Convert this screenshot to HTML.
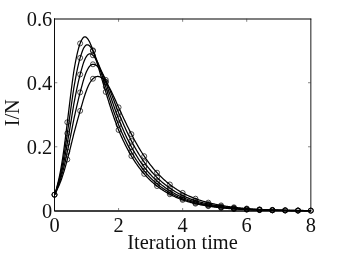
<!DOCTYPE html>
<html><head><meta charset="utf-8"><style>
html,body{margin:0;padding:0;background:#fff;}
svg{display:block;will-change:transform;font-family:"Liberation Serif",serif;font-size:20.4px;fill:#111}
</style></head><body>
<svg width="343" height="254" viewBox="0 0 343 254">
<rect width="343" height="254" fill="#fff"/>
<g fill="none" stroke="#333" stroke-width="0.6">
<path d="M54.5 18.2 V211.3" stroke-width="0.95" stroke="#000"/>
<path d="M54.5 211 H311.3" stroke-width="1.3" stroke="#000"/>
<path d="M54.5 19 H311.3" stroke-width="1.06" stroke="#000"/>
<path d="M310.85 18.7 V210.8" stroke-width="0.9" stroke="#000"/>
<path d="M118.575 210.8 V208.0 M118.575 18.7 V21.8"/><path d="M182.65 210.8 V208.0 M182.65 18.7 V21.8"/><path d="M246.72500000000002 210.8 V208.0 M246.72500000000002 18.7 V21.8"/><path d="M54.5 146.76666666666665 H57.3 M310.8 146.76666666666665 H308.0"/><path d="M54.5 82.73333333333332 H57.3 M310.8 82.73333333333332 H308.0"/>
</g>
<g fill="none" stroke="#000" stroke-width="1.25" stroke-linejoin="round">
<path d="M54.50 194.79 L55.14 192.97 L55.78 190.97 L56.42 188.76 L57.06 186.34 L57.70 183.68 L58.34 181.09 L58.99 178.29 L59.63 175.28 L60.27 172.05 L60.91 168.59 L61.55 164.90 L62.19 160.98 L62.83 156.83 L63.47 152.46 L64.11 147.87 L64.75 143.08 L65.39 138.10 L66.03 132.95 L66.67 127.66 L67.31 122.25 L67.96 117.07 L68.60 111.83 L69.24 106.58 L69.88 101.35 L70.52 96.16 L71.16 91.04 L71.80 86.04 L72.44 81.18 L73.08 76.48 L73.72 71.98 L74.36 68.15 L75.00 64.50 L75.64 61.07 L76.29 57.84 L76.93 54.85 L77.57 52.08 L78.21 49.56 L78.85 47.27 L79.49 45.22 L80.13 43.41 L80.77 41.83 L81.41 40.49 L82.05 39.29 L82.69 38.29 L83.33 37.57 L83.97 37.10 L84.62 36.89 L85.26 36.90 L85.90 37.14 L86.54 37.58 L87.18 38.21 L87.82 39.01 L88.46 39.97 L89.10 41.07 L89.74 42.31 L90.38 43.71 L91.02 45.22 L91.66 46.83 L92.30 48.53 L92.94 50.31 L93.59 52.16 L94.23 54.07 L94.87 56.03 L95.51 58.04 L96.15 60.09 L96.79 62.16 L97.43 64.27 L98.07 66.39 L98.71 68.52 L99.35 70.67 L99.99 72.82 L100.63 74.98 L101.27 77.13 L101.92 79.28 L102.56 81.42 L103.20 83.55 L103.84 85.67 L104.48 87.77 L105.12 89.86 L105.76 91.93 L106.40 94.09 L107.04 96.22 L107.68 98.33 L108.32 100.42 L108.96 102.47 L109.60 104.51 L110.25 106.51 L110.89 108.49 L111.53 110.44 L112.17 112.36 L112.81 114.26 L113.45 116.12 L114.09 117.96 L114.73 119.76 L115.37 121.54 L116.01 123.29 L116.65 125.01 L117.29 126.70 L117.93 128.36 L118.58 129.99 L119.22 131.52 L119.86 133.02 L120.50 134.50 L121.14 135.95 L121.78 137.38 L122.42 138.79 L123.06 140.16 L123.70 141.52 L124.34 142.85 L124.98 144.16 L125.62 145.44 L126.26 146.70 L126.90 147.94 L127.55 149.15 L128.19 150.35 L128.83 151.52 L129.47 152.67 L130.11 153.80 L130.75 154.91 L131.39 155.99 L132.03 157.06 L132.67 158.11 L133.31 159.14 L133.95 160.14 L134.59 161.13 L135.23 162.11 L135.88 163.06 L136.52 163.99 L137.16 164.91 L137.80 165.81 L138.44 166.69 L139.08 167.56 L139.72 168.41 L140.36 169.24 L141.00 170.06 L141.64 170.86 L142.28 171.64 L142.92 172.41 L143.56 173.17 L144.21 173.91 L144.85 174.64 L145.49 175.35 L146.13 176.05 L146.77 176.74 L147.41 177.41 L148.05 178.07 L148.69 178.72 L149.33 179.35 L149.97 179.97 L150.61 180.58 L151.25 181.18 L151.89 181.77 L152.53 182.34 L153.18 182.90 L153.82 183.46 L154.46 184.00 L155.10 184.53 L155.74 185.05 L156.38 185.56 L157.02 186.06 L157.66 186.55 L158.30 187.03 L158.94 187.50 L159.58 187.97 L160.22 188.42 L160.86 188.86 L161.51 189.30 L162.15 189.73 L162.79 190.14 L163.43 190.55 L164.07 190.96 L164.71 191.35 L165.35 191.74 L165.99 192.12 L166.63 192.49 L167.27 192.85 L167.91 193.21 L168.55 193.56 L169.19 193.90 L169.84 194.24 L170.48 194.58 L171.12 194.92 L171.76 195.25 L172.40 195.57 L173.04 195.89 L173.68 196.20 L174.32 196.50 L174.96 196.80 L175.60 197.09 L176.24 197.38 L176.88 197.66 L177.52 197.93 L178.16 198.20 L178.81 198.46 L179.45 198.72 L180.09 198.97 L180.73 199.22 L181.37 199.46 L182.01 199.69 L182.65 199.92 L183.29 200.15 L183.93 200.37 L184.57 200.59 L185.21 200.80 L185.85 201.01 L186.49 201.22 L187.14 201.42 L187.78 201.61 L188.42 201.80 L189.06 201.99 L189.70 202.17 L190.34 202.35 L190.98 202.53 L191.62 202.70 L192.26 202.87 L192.90 203.04 L193.54 203.20 L194.18 203.36 L194.82 203.51 L195.47 203.66 L196.11 203.81 L196.75 203.96 L197.39 204.10 L198.03 204.24 L198.67 204.38 L199.31 204.51 L199.95 204.64 L200.59 204.77 L201.23 204.90 L201.87 205.02 L202.51 205.14 L203.15 205.26 L203.79 205.37 L204.44 205.49 L205.08 205.60 L205.72 205.71 L206.36 205.81 L207.00 205.92 L207.64 206.02 L208.28 206.12 L208.92 206.22 L209.56 206.31 L210.20 206.41 L210.84 206.50 L211.48 206.59 L212.12 206.68 L212.77 206.76 L213.41 206.85 L214.05 206.93 L214.69 207.01 L215.33 207.10 L215.97 207.18 L216.61 207.26 L217.25 207.35 L217.89 207.43 L218.53 207.50 L219.17 207.58 L219.81 207.65 L220.45 207.72 L221.10 207.80 L221.74 207.86 L222.38 207.93 L223.02 208.00 L223.66 208.06 L224.30 208.13 L224.94 208.19 L225.58 208.25 L226.22 208.31 L226.86 208.36 L227.50 208.42 L228.14 208.47 L228.78 208.53 L229.42 208.58 L230.07 208.63 L230.71 208.68 L231.35 208.73 L231.99 208.78 L232.63 208.82 L233.27 208.87 L233.91 208.91 L234.55 208.96 L235.19 209.00 L235.83 209.04 L236.47 209.08 L237.11 209.12 L237.75 209.16 L238.40 209.20 L239.04 209.23 L239.68 209.27 L240.32 209.30 L240.96 209.34 L241.60 209.37 L242.24 209.40 L242.88 209.44 L243.52 209.47 L244.16 209.50 L244.80 209.53 L245.44 209.56 L246.08 209.59 L246.73 209.61 L247.37 209.64 L248.01 209.67 L248.65 209.70 L249.29 209.73 L249.93 209.75 L250.57 209.78 L251.21 209.80 L251.85 209.83 L252.49 209.85 L253.13 209.87 L253.77 209.90 L254.41 209.92 L255.05 209.94 L255.70 209.96 L256.34 209.98 L256.98 210.00 L257.62 210.02 L258.26 210.04 L258.90 210.06 L259.54 210.08 L260.18 210.09 L260.82 210.11 L261.46 210.13 L262.10 210.14 L262.74 210.16 L263.38 210.18 L264.03 210.19 L264.67 210.21 L265.31 210.22 L265.95 210.23 L266.59 210.25 L267.23 210.26 L267.87 210.27 L268.51 210.29 L269.15 210.30 L269.79 210.31 L270.43 210.32 L271.07 210.34 L271.71 210.35 L272.36 210.36 L273.00 210.37 L273.64 210.38 L274.28 210.39 L274.92 210.40 L275.56 210.41 L276.20 210.42 L276.84 210.43 L277.48 210.44 L278.12 210.45 L278.76 210.45 L279.40 210.46 L280.04 210.47 L280.68 210.48 L281.33 210.49 L281.97 210.49 L282.61 210.50 L283.25 210.51 L283.89 210.51 L284.53 210.52 L285.17 210.53 L285.81 210.53 L286.45 210.54 L287.09 210.55 L287.73 210.55 L288.37 210.56 L289.01 210.56 L289.66 210.57 L290.30 210.57 L290.94 210.58 L291.58 210.58 L292.22 210.59 L292.86 210.59 L293.50 210.60 L294.14 210.60 L294.78 210.61 L295.42 210.61 L296.06 210.62 L296.70 210.62 L297.34 210.63 L297.99 210.63 L298.63 210.63 L299.27 210.64 L299.91 210.64 L300.55 210.65 L301.19 210.65 L301.83 210.65 L302.47 210.66 L303.11 210.66 L303.75 210.66 L304.39 210.67 L305.03 210.67 L305.67 210.67 L306.31 210.67 L306.96 210.68 L307.60 210.68 L308.24 210.68 L308.88 210.69 L309.52 210.69 L310.16 210.69 L310.80 210.69"/><path d="M54.50 194.76 L55.14 193.12 L55.78 191.34 L56.42 189.39 L57.06 187.28 L57.70 184.98 L58.34 182.75 L58.99 180.35 L59.63 177.79 L60.27 175.05 L60.91 172.14 L61.55 169.05 L62.19 165.77 L62.83 162.31 L63.47 158.67 L64.11 154.86 L64.75 150.87 L65.39 146.72 L66.03 142.41 L66.67 137.97 L67.31 133.40 L67.96 129.01 L68.60 124.54 L69.24 120.02 L69.88 115.46 L70.52 110.88 L71.16 106.32 L71.80 101.79 L72.44 97.31 L73.08 92.92 L73.72 88.63 L74.36 84.90 L75.00 81.28 L75.64 77.79 L76.29 74.45 L76.93 71.25 L77.57 68.22 L78.21 65.36 L78.85 62.68 L79.49 60.19 L80.13 57.88 L80.77 55.76 L81.41 53.84 L82.05 51.99 L82.69 50.26 L83.33 48.78 L83.97 47.55 L84.62 46.55 L85.26 45.78 L85.90 45.24 L86.54 44.90 L87.18 44.77 L87.82 44.83 L88.46 45.06 L89.10 45.47 L89.74 46.04 L90.38 46.76 L91.02 47.63 L91.66 48.63 L92.30 49.75 L92.94 50.98 L93.59 52.31 L94.23 53.73 L94.87 55.23 L95.51 56.81 L96.15 58.45 L96.79 60.14 L97.43 61.89 L98.07 63.69 L98.71 65.52 L99.35 67.38 L99.99 69.27 L100.63 71.19 L101.27 73.12 L101.92 75.07 L102.56 77.03 L103.20 78.99 L103.84 80.96 L104.48 82.93 L105.12 84.89 L105.76 86.86 L106.40 88.92 L107.04 90.98 L107.68 93.03 L108.32 95.06 L108.96 97.08 L109.60 99.08 L110.25 101.06 L110.89 103.02 L111.53 104.96 L112.17 106.88 L112.81 108.78 L113.45 110.66 L114.09 112.51 L114.73 114.33 L115.37 116.13 L116.01 117.91 L116.65 119.66 L117.29 121.39 L117.93 123.09 L118.58 124.76 L119.22 126.33 L119.86 127.88 L120.50 129.40 L121.14 130.90 L121.78 132.38 L122.42 133.84 L123.06 135.27 L123.70 136.67 L124.34 138.06 L124.98 139.42 L125.62 140.76 L126.26 142.07 L126.90 143.37 L127.55 144.64 L128.19 145.89 L128.83 147.12 L129.47 148.33 L130.11 149.51 L130.75 150.68 L131.39 151.83 L132.03 152.95 L132.67 154.05 L133.31 155.14 L133.95 156.21 L134.59 157.25 L135.23 158.28 L135.88 159.29 L136.52 160.28 L137.16 161.25 L137.80 162.21 L138.44 163.14 L139.08 164.06 L139.72 164.97 L140.36 165.85 L141.00 166.72 L141.64 167.58 L142.28 168.41 L142.92 169.24 L143.56 170.04 L144.21 170.83 L144.85 171.61 L145.49 172.37 L146.13 173.12 L146.77 173.85 L147.41 174.57 L148.05 175.28 L148.69 175.97 L149.33 176.65 L149.97 177.32 L150.61 177.97 L151.25 178.61 L151.89 179.24 L152.53 179.86 L153.18 180.47 L153.82 181.06 L154.46 181.64 L155.10 182.21 L155.74 182.77 L156.38 183.32 L157.02 183.86 L157.66 184.39 L158.30 184.91 L158.94 185.42 L159.58 185.91 L160.22 186.40 L160.86 186.88 L161.51 187.35 L162.15 187.81 L162.79 188.27 L163.43 188.71 L164.07 189.14 L164.71 189.57 L165.35 189.99 L165.99 190.40 L166.63 190.80 L167.27 191.19 L167.91 191.58 L168.55 191.96 L169.19 192.33 L169.84 192.69 L170.48 193.07 L171.12 193.43 L171.76 193.79 L172.40 194.14 L173.04 194.48 L173.68 194.82 L174.32 195.15 L174.96 195.47 L175.60 195.79 L176.24 196.09 L176.88 196.40 L177.52 196.69 L178.16 196.99 L178.81 197.27 L179.45 197.55 L180.09 197.82 L180.73 198.09 L181.37 198.35 L182.01 198.61 L182.65 198.86 L183.29 199.11 L183.93 199.35 L184.57 199.59 L185.21 199.82 L185.85 200.04 L186.49 200.27 L187.14 200.48 L187.78 200.70 L188.42 200.91 L189.06 201.11 L189.70 201.31 L190.34 201.51 L190.98 201.70 L191.62 201.89 L192.26 202.07 L192.90 202.25 L193.54 202.43 L194.18 202.60 L194.82 202.77 L195.47 202.94 L196.11 203.10 L196.75 203.26 L197.39 203.41 L198.03 203.57 L198.67 203.72 L199.31 203.86 L199.95 204.01 L200.59 204.15 L201.23 204.29 L201.87 204.42 L202.51 204.55 L203.15 204.68 L203.79 204.81 L204.44 204.93 L205.08 205.05 L205.72 205.17 L206.36 205.29 L207.00 205.40 L207.64 205.51 L208.28 205.62 L208.92 205.73 L209.56 205.84 L210.20 205.94 L210.84 206.04 L211.48 206.14 L212.12 206.23 L212.77 206.33 L213.41 206.42 L214.05 206.51 L214.69 206.60 L215.33 206.70 L215.97 206.79 L216.61 206.88 L217.25 206.97 L217.89 207.06 L218.53 207.14 L219.17 207.23 L219.81 207.31 L220.45 207.39 L221.10 207.47 L221.74 207.54 L222.38 207.62 L223.02 207.69 L223.66 207.76 L224.30 207.83 L224.94 207.90 L225.58 207.96 L226.22 208.03 L226.86 208.09 L227.50 208.15 L228.14 208.21 L228.78 208.27 L229.42 208.33 L230.07 208.39 L230.71 208.44 L231.35 208.49 L231.99 208.55 L232.63 208.60 L233.27 208.65 L233.91 208.70 L234.55 208.75 L235.19 208.79 L235.83 208.84 L236.47 208.88 L237.11 208.93 L237.75 208.97 L238.40 209.01 L239.04 209.05 L239.68 209.09 L240.32 209.13 L240.96 209.17 L241.60 209.21 L242.24 209.24 L242.88 209.28 L243.52 209.31 L244.16 209.35 L244.80 209.38 L245.44 209.41 L246.08 209.44 L246.73 209.47 L247.37 209.51 L248.01 209.54 L248.65 209.57 L249.29 209.60 L249.93 209.63 L250.57 209.66 L251.21 209.68 L251.85 209.71 L252.49 209.74 L253.13 209.76 L253.77 209.79 L254.41 209.81 L255.05 209.84 L255.70 209.86 L256.34 209.88 L256.98 209.90 L257.62 209.93 L258.26 209.95 L258.90 209.97 L259.54 209.99 L260.18 210.01 L260.82 210.03 L261.46 210.04 L262.10 210.06 L262.74 210.08 L263.38 210.10 L264.03 210.11 L264.67 210.13 L265.31 210.15 L265.95 210.16 L266.59 210.18 L267.23 210.19 L267.87 210.21 L268.51 210.22 L269.15 210.24 L269.79 210.25 L270.43 210.26 L271.07 210.28 L271.71 210.29 L272.36 210.30 L273.00 210.31 L273.64 210.33 L274.28 210.34 L274.92 210.35 L275.56 210.36 L276.20 210.37 L276.84 210.38 L277.48 210.39 L278.12 210.40 L278.76 210.41 L279.40 210.42 L280.04 210.43 L280.68 210.44 L281.33 210.44 L281.97 210.45 L282.61 210.46 L283.25 210.47 L283.89 210.48 L284.53 210.48 L285.17 210.49 L285.81 210.50 L286.45 210.51 L287.09 210.51 L287.73 210.52 L288.37 210.53 L289.01 210.53 L289.66 210.54 L290.30 210.54 L290.94 210.55 L291.58 210.56 L292.22 210.56 L292.86 210.57 L293.50 210.57 L294.14 210.58 L294.78 210.58 L295.42 210.59 L296.06 210.59 L296.70 210.60 L297.34 210.60 L297.99 210.61 L298.63 210.61 L299.27 210.62 L299.91 210.62 L300.55 210.62 L301.19 210.63 L301.83 210.63 L302.47 210.64 L303.11 210.64 L303.75 210.64 L304.39 210.65 L305.03 210.65 L305.67 210.65 L306.31 210.66 L306.96 210.66 L307.60 210.66 L308.24 210.67 L308.88 210.67 L309.52 210.67 L310.16 210.68 L310.80 210.68"/><path d="M54.50 194.73 L55.14 193.27 L55.78 191.69 L56.42 189.99 L57.06 188.15 L57.70 186.17 L58.34 184.25 L58.99 182.21 L59.63 180.03 L60.27 177.72 L60.91 175.27 L61.55 172.68 L62.19 169.95 L62.83 167.07 L63.47 164.06 L64.11 160.90 L64.75 157.60 L65.39 154.17 L66.03 150.61 L66.67 146.92 L67.31 143.13 L67.96 139.48 L68.60 135.76 L69.24 131.96 L69.88 128.11 L70.52 124.22 L71.16 120.31 L71.80 116.38 L72.44 112.46 L73.08 108.55 L73.72 104.69 L74.36 101.29 L75.00 97.95 L75.64 94.68 L76.29 91.48 L76.93 88.37 L77.57 85.36 L78.21 82.46 L78.85 79.67 L79.49 77.01 L80.13 74.48 L80.77 72.08 L81.41 69.83 L82.05 67.58 L82.69 65.37 L83.33 63.36 L83.97 61.55 L84.62 59.93 L85.26 58.52 L85.90 57.30 L86.54 56.27 L87.18 55.43 L87.82 54.77 L88.46 54.29 L89.10 53.98 L89.74 53.83 L90.38 53.84 L91.02 54.00 L91.66 54.30 L92.30 54.73 L92.94 55.29 L93.59 55.97 L94.23 56.76 L94.87 57.65 L95.51 58.64 L96.15 59.71 L96.79 60.87 L97.43 62.10 L98.07 63.40 L98.71 64.76 L99.35 66.18 L99.99 67.65 L100.63 69.16 L101.27 70.72 L101.92 72.31 L102.56 73.93 L103.20 75.58 L103.84 77.25 L104.48 78.95 L105.12 80.66 L105.76 82.38 L106.40 84.25 L107.04 86.14 L107.68 88.03 L108.32 89.92 L108.96 91.81 L109.60 93.69 L110.25 95.58 L110.89 97.45 L111.53 99.32 L112.17 101.18 L112.81 103.02 L113.45 104.85 L114.09 106.67 L114.73 108.47 L115.37 110.25 L116.01 112.02 L116.65 113.76 L117.29 115.49 L117.93 117.20 L118.58 118.89 L119.22 120.48 L119.86 122.05 L120.50 123.59 L121.14 125.12 L121.78 126.63 L122.42 128.12 L123.06 129.59 L123.70 131.04 L124.34 132.47 L124.98 133.87 L125.62 135.26 L126.26 136.62 L126.90 137.97 L127.55 139.29 L128.19 140.60 L128.83 141.88 L129.47 143.14 L130.11 144.39 L130.75 145.61 L131.39 146.81 L132.03 147.99 L132.67 149.16 L133.31 150.30 L133.95 151.43 L134.59 152.53 L135.23 153.62 L135.88 154.69 L136.52 155.74 L137.16 156.78 L137.80 157.79 L138.44 158.79 L139.08 159.77 L139.72 160.73 L140.36 161.68 L141.00 162.61 L141.64 163.52 L142.28 164.42 L142.92 165.30 L143.56 166.16 L144.21 167.01 L144.85 167.84 L145.49 168.66 L146.13 169.47 L146.77 170.26 L147.41 171.03 L148.05 171.79 L148.69 172.54 L149.33 173.27 L149.97 173.99 L150.61 174.70 L151.25 175.39 L151.89 176.07 L152.53 176.74 L153.18 177.39 L153.82 178.04 L154.46 178.67 L155.10 179.29 L155.74 179.90 L156.38 180.49 L157.02 181.08 L157.66 181.65 L158.30 182.21 L158.94 182.77 L159.58 183.31 L160.22 183.84 L160.86 184.36 L161.51 184.88 L162.15 185.38 L162.79 185.87 L163.43 186.36 L164.07 186.83 L164.71 187.30 L165.35 187.75 L165.99 188.20 L166.63 188.64 L167.27 189.07 L167.91 189.49 L168.55 189.91 L169.19 190.31 L169.84 190.71 L170.48 191.12 L171.12 191.52 L171.76 191.91 L172.40 192.29 L173.04 192.67 L173.68 193.04 L174.32 193.40 L174.96 193.75 L175.60 194.10 L176.24 194.44 L176.88 194.77 L177.52 195.09 L178.16 195.41 L178.81 195.73 L179.45 196.03 L180.09 196.33 L180.73 196.63 L181.37 196.91 L182.01 197.20 L182.65 197.47 L183.29 197.75 L183.93 198.01 L184.57 198.27 L185.21 198.53 L185.85 198.78 L186.49 199.02 L187.14 199.26 L187.78 199.50 L188.42 199.73 L189.06 199.95 L189.70 200.17 L190.34 200.39 L190.98 200.60 L191.62 200.81 L192.26 201.02 L192.90 201.22 L193.54 201.41 L194.18 201.60 L194.82 201.79 L195.47 201.97 L196.11 202.15 L196.75 202.33 L197.39 202.50 L198.03 202.67 L198.67 202.84 L199.31 203.00 L199.95 203.16 L200.59 203.32 L201.23 203.47 L201.87 203.62 L202.51 203.77 L203.15 203.91 L203.79 204.05 L204.44 204.19 L205.08 204.32 L205.72 204.46 L206.36 204.59 L207.00 204.71 L207.64 204.84 L208.28 204.96 L208.92 205.08 L209.56 205.20 L210.20 205.31 L210.84 205.42 L211.48 205.53 L212.12 205.64 L212.77 205.75 L213.41 205.85 L214.05 205.95 L214.69 206.05 L215.33 206.16 L215.97 206.26 L216.61 206.36 L217.25 206.46 L217.89 206.56 L218.53 206.66 L219.17 206.75 L219.81 206.84 L220.45 206.93 L221.10 207.02 L221.74 207.10 L222.38 207.19 L223.02 207.27 L223.66 207.35 L224.30 207.42 L224.94 207.50 L225.58 207.58 L226.22 207.65 L226.86 207.72 L227.50 207.79 L228.14 207.86 L228.78 207.92 L229.42 207.99 L230.07 208.05 L230.71 208.11 L231.35 208.17 L231.99 208.23 L232.63 208.29 L233.27 208.35 L233.91 208.40 L234.55 208.46 L235.19 208.51 L235.83 208.56 L236.47 208.61 L237.11 208.66 L237.75 208.71 L238.40 208.76 L239.04 208.80 L239.68 208.85 L240.32 208.89 L240.96 208.93 L241.60 208.98 L242.24 209.02 L242.88 209.06 L243.52 209.10 L244.16 209.13 L244.80 209.17 L245.44 209.21 L246.08 209.24 L246.73 209.28 L247.37 209.32 L248.01 209.35 L248.65 209.39 L249.29 209.42 L249.93 209.45 L250.57 209.48 L251.21 209.52 L251.85 209.55 L252.49 209.58 L253.13 209.61 L253.77 209.63 L254.41 209.66 L255.05 209.69 L255.70 209.72 L256.34 209.74 L256.98 209.77 L257.62 209.79 L258.26 209.82 L258.90 209.84 L259.54 209.86 L260.18 209.88 L260.82 209.91 L261.46 209.93 L262.10 209.95 L262.74 209.97 L263.38 209.99 L264.03 210.01 L264.67 210.03 L265.31 210.05 L265.95 210.06 L266.59 210.08 L267.23 210.10 L267.87 210.12 L268.51 210.13 L269.15 210.15 L269.79 210.16 L270.43 210.18 L271.07 210.19 L271.71 210.21 L272.36 210.22 L273.00 210.24 L273.64 210.25 L274.28 210.26 L274.92 210.27 L275.56 210.29 L276.20 210.30 L276.84 210.31 L277.48 210.32 L278.12 210.33 L278.76 210.35 L279.40 210.36 L280.04 210.37 L280.68 210.38 L281.33 210.39 L281.97 210.40 L282.61 210.40 L283.25 210.41 L283.89 210.42 L284.53 210.43 L285.17 210.44 L285.81 210.45 L286.45 210.46 L287.09 210.46 L287.73 210.47 L288.37 210.48 L289.01 210.49 L289.66 210.49 L290.30 210.50 L290.94 210.51 L291.58 210.51 L292.22 210.52 L292.86 210.53 L293.50 210.53 L294.14 210.54 L294.78 210.55 L295.42 210.55 L296.06 210.56 L296.70 210.56 L297.34 210.57 L297.99 210.57 L298.63 210.58 L299.27 210.58 L299.91 210.59 L300.55 210.59 L301.19 210.60 L301.83 210.60 L302.47 210.61 L303.11 210.61 L303.75 210.62 L304.39 210.62 L305.03 210.62 L305.67 210.63 L306.31 210.63 L306.96 210.64 L307.60 210.64 L308.24 210.64 L308.88 210.65 L309.52 210.65 L310.16 210.65 L310.80 210.66"/><path d="M54.50 194.70 L55.14 193.41 L55.78 192.03 L56.42 190.55 L57.06 188.98 L57.70 187.29 L58.34 185.65 L58.99 183.91 L59.63 182.07 L60.27 180.13 L60.91 178.09 L61.55 175.94 L62.19 173.68 L62.83 171.31 L63.47 168.83 L64.11 166.24 L64.75 163.54 L65.39 160.74 L66.03 157.84 L66.67 154.83 L67.31 151.73 L67.96 148.77 L68.60 145.74 L69.24 142.65 L69.88 139.50 L70.52 136.30 L71.16 133.06 L71.80 129.79 L72.44 126.49 L73.08 123.19 L73.72 119.88 L74.36 116.97 L75.00 114.07 L75.64 111.19 L76.29 108.35 L76.93 105.54 L77.57 102.79 L78.21 100.09 L78.85 97.45 L79.49 94.88 L80.13 92.39 L80.77 89.98 L81.41 87.66 L82.05 85.30 L82.69 82.92 L83.33 80.67 L83.97 78.56 L84.62 76.59 L85.26 74.77 L85.90 73.09 L86.54 71.56 L87.18 70.19 L87.82 68.96 L88.46 67.88 L89.10 66.95 L89.74 66.16 L90.38 65.53 L91.02 65.03 L91.66 64.66 L92.30 64.42 L92.94 64.29 L93.59 64.28 L94.23 64.38 L94.87 64.59 L95.51 64.90 L96.15 65.31 L96.79 65.81 L97.43 66.39 L98.07 67.06 L98.71 67.81 L99.35 68.63 L99.99 69.52 L100.63 70.47 L101.27 71.48 L101.92 72.55 L102.56 73.67 L103.20 74.83 L103.84 76.04 L104.48 77.29 L105.12 78.57 L105.76 79.89 L106.40 81.40 L107.04 82.94 L107.68 84.52 L108.32 86.11 L108.96 87.73 L109.60 89.37 L110.25 91.02 L110.89 92.69 L111.53 94.36 L112.17 96.04 L112.81 97.72 L113.45 99.40 L114.09 101.09 L114.73 102.77 L115.37 104.45 L116.01 106.12 L116.65 107.79 L117.29 109.44 L117.93 111.09 L118.58 112.72 L119.22 114.27 L119.86 115.81 L120.50 117.33 L121.14 118.84 L121.78 120.34 L122.42 121.82 L123.06 123.28 L123.70 124.74 L124.34 126.17 L124.98 127.59 L125.62 128.99 L126.26 130.38 L126.90 131.75 L127.55 133.10 L128.19 134.44 L128.83 135.76 L129.47 137.06 L130.11 138.34 L130.75 139.61 L131.39 140.86 L132.03 142.09 L132.67 143.30 L133.31 144.49 L133.95 145.67 L134.59 146.83 L135.23 147.97 L135.88 149.10 L136.52 150.21 L137.16 151.30 L137.80 152.37 L138.44 153.43 L139.08 154.47 L139.72 155.49 L140.36 156.50 L141.00 157.49 L141.64 158.46 L142.28 159.42 L142.92 160.36 L143.56 161.29 L144.21 162.20 L144.85 163.10 L145.49 163.98 L146.13 164.84 L146.77 165.69 L147.41 166.53 L148.05 167.35 L148.69 168.16 L149.33 168.95 L149.97 169.73 L150.61 170.50 L151.25 171.25 L151.89 171.99 L152.53 172.72 L153.18 173.43 L153.82 174.14 L154.46 174.82 L155.10 175.50 L155.74 176.16 L156.38 176.82 L157.02 177.46 L157.66 178.09 L158.30 178.70 L158.94 179.31 L159.58 179.91 L160.22 180.49 L160.86 181.07 L161.51 181.63 L162.15 182.18 L162.79 182.73 L163.43 183.26 L164.07 183.78 L164.71 184.30 L165.35 184.80 L165.99 185.30 L166.63 185.78 L167.27 186.26 L167.91 186.73 L168.55 187.19 L169.19 187.64 L169.84 188.08 L170.48 188.53 L171.12 188.97 L171.76 189.40 L172.40 189.83 L173.04 190.24 L173.68 190.65 L174.32 191.05 L174.96 191.44 L175.60 191.82 L176.24 192.20 L176.88 192.57 L177.52 192.93 L178.16 193.29 L178.81 193.64 L179.45 193.98 L180.09 194.31 L180.73 194.64 L181.37 194.96 L182.01 195.28 L182.65 195.59 L183.29 195.89 L183.93 196.19 L184.57 196.48 L185.21 196.76 L185.85 197.04 L186.49 197.32 L187.14 197.59 L187.78 197.85 L188.42 198.11 L189.06 198.36 L189.70 198.61 L190.34 198.86 L190.98 199.09 L191.62 199.33 L192.26 199.56 L192.90 199.78 L193.54 200.00 L194.18 200.22 L194.82 200.43 L195.47 200.64 L196.11 200.84 L196.75 201.04 L197.39 201.24 L198.03 201.43 L198.67 201.62 L199.31 201.80 L199.95 201.98 L200.59 202.16 L201.23 202.33 L201.87 202.50 L202.51 202.67 L203.15 202.83 L203.79 202.99 L204.44 203.15 L205.08 203.30 L205.72 203.45 L206.36 203.60 L207.00 203.74 L207.64 203.88 L208.28 204.02 L208.92 204.16 L209.56 204.29 L210.20 204.42 L210.84 204.55 L211.48 204.68 L212.12 204.80 L212.77 204.92 L213.41 205.04 L214.05 205.15 L214.69 205.27 L215.33 205.39 L215.97 205.51 L216.61 205.63 L217.25 205.74 L217.89 205.85 L218.53 205.96 L219.17 206.07 L219.81 206.17 L220.45 206.28 L221.10 206.38 L221.74 206.47 L222.38 206.57 L223.02 206.66 L223.66 206.75 L224.30 206.84 L224.94 206.93 L225.58 207.02 L226.22 207.10 L226.86 207.18 L227.50 207.26 L228.14 207.34 L228.78 207.42 L229.42 207.49 L230.07 207.56 L230.71 207.64 L231.35 207.71 L231.99 207.77 L232.63 207.84 L233.27 207.91 L233.91 207.97 L234.55 208.03 L235.19 208.09 L235.83 208.15 L236.47 208.21 L237.11 208.27 L237.75 208.33 L238.40 208.38 L239.04 208.43 L239.68 208.49 L240.32 208.54 L240.96 208.59 L241.60 208.64 L242.24 208.68 L242.88 208.73 L243.52 208.78 L244.16 208.82 L244.80 208.87 L245.44 208.91 L246.08 208.95 L246.73 208.99 L247.37 209.03 L248.01 209.08 L248.65 209.12 L249.29 209.16 L249.93 209.19 L250.57 209.23 L251.21 209.27 L251.85 209.30 L252.49 209.34 L253.13 209.37 L253.77 209.41 L254.41 209.44 L255.05 209.47 L255.70 209.50 L256.34 209.53 L256.98 209.56 L257.62 209.59 L258.26 209.62 L258.90 209.65 L259.54 209.67 L260.18 209.70 L260.82 209.73 L261.46 209.75 L262.10 209.78 L262.74 209.80 L263.38 209.82 L264.03 209.85 L264.67 209.87 L265.31 209.89 L265.95 209.91 L266.59 209.93 L267.23 209.95 L267.87 209.97 L268.51 209.99 L269.15 210.01 L269.79 210.03 L270.43 210.05 L271.07 210.07 L271.71 210.08 L272.36 210.10 L273.00 210.12 L273.64 210.13 L274.28 210.15 L274.92 210.16 L275.56 210.18 L276.20 210.19 L276.84 210.21 L277.48 210.22 L278.12 210.23 L278.76 210.25 L279.40 210.26 L280.04 210.27 L280.68 210.28 L281.33 210.30 L281.97 210.31 L282.61 210.32 L283.25 210.33 L283.89 210.34 L284.53 210.35 L285.17 210.36 L285.81 210.37 L286.45 210.38 L287.09 210.39 L287.73 210.40 L288.37 210.41 L289.01 210.42 L289.66 210.43 L290.30 210.43 L290.94 210.44 L291.58 210.45 L292.22 210.46 L292.86 210.47 L293.50 210.47 L294.14 210.48 L294.78 210.49 L295.42 210.49 L296.06 210.50 L296.70 210.51 L297.34 210.52 L297.99 210.52 L298.63 210.53 L299.27 210.53 L299.91 210.54 L300.55 210.55 L301.19 210.55 L301.83 210.56 L302.47 210.56 L303.11 210.57 L303.75 210.57 L304.39 210.58 L305.03 210.58 L305.67 210.59 L306.31 210.59 L306.96 210.60 L307.60 210.60 L308.24 210.61 L308.88 210.61 L309.52 210.62 L310.16 210.62 L310.80 210.62"/><path d="M54.50 194.66 L55.14 193.55 L55.78 192.36 L56.42 191.10 L57.06 189.77 L57.70 188.36 L58.34 186.97 L58.99 185.51 L59.63 183.98 L60.27 182.38 L60.91 180.69 L61.55 178.93 L62.19 177.09 L62.83 175.17 L63.47 173.16 L64.11 171.08 L64.75 168.91 L65.39 166.67 L66.03 164.35 L66.67 161.95 L67.31 159.48 L67.96 157.14 L68.60 154.76 L69.24 152.31 L69.88 149.82 L70.52 147.29 L71.16 144.71 L71.80 142.10 L72.44 139.45 L73.08 136.79 L73.72 134.10 L74.36 131.73 L75.00 129.36 L75.64 126.99 L76.29 124.63 L76.93 122.27 L77.57 119.93 L78.21 117.61 L78.85 115.32 L79.49 113.06 L80.13 110.83 L80.77 108.65 L81.41 106.51 L82.05 104.30 L82.69 102.05 L83.33 99.87 L83.97 97.76 L84.62 95.74 L85.26 93.81 L85.90 91.97 L86.54 90.23 L87.18 88.58 L87.82 87.04 L88.46 85.60 L89.10 84.26 L89.74 83.04 L90.38 81.99 L91.02 81.04 L91.66 80.18 L92.30 79.41 L92.94 78.73 L93.59 78.15 L94.23 77.66 L94.87 77.25 L95.51 76.93 L96.15 76.69 L96.79 76.54 L97.43 76.47 L98.07 76.48 L98.71 76.56 L99.35 76.72 L99.99 76.94 L100.63 77.24 L101.27 77.60 L101.92 78.02 L102.56 78.51 L103.20 79.05 L103.84 79.65 L104.48 80.29 L105.12 80.99 L105.76 81.73 L106.40 82.67 L107.04 83.67 L107.68 84.71 L108.32 85.81 L108.96 86.95 L109.60 88.14 L110.25 89.36 L110.89 90.62 L111.53 91.90 L112.17 93.22 L112.81 94.56 L113.45 95.93 L114.09 97.31 L114.73 98.71 L115.37 100.13 L116.01 101.56 L116.65 103.00 L117.29 104.44 L117.93 105.89 L118.58 107.35 L119.22 108.74 L119.86 110.13 L120.50 111.52 L121.14 112.90 L121.78 114.29 L122.42 115.67 L123.06 117.05 L123.70 118.42 L124.34 119.78 L124.98 121.14 L125.62 122.48 L126.26 123.82 L126.90 125.15 L127.55 126.47 L128.19 127.78 L128.83 129.08 L129.47 130.37 L130.11 131.64 L130.75 132.90 L131.39 134.15 L132.03 135.39 L132.67 136.61 L133.31 137.82 L133.95 139.02 L134.59 140.20 L135.23 141.37 L135.88 142.52 L136.52 143.66 L137.16 144.79 L137.80 145.90 L138.44 146.99 L139.08 148.08 L139.72 149.14 L140.36 150.20 L141.00 151.24 L141.64 152.26 L142.28 153.27 L142.92 154.26 L143.56 155.24 L144.21 156.21 L144.85 157.16 L145.49 158.10 L146.13 159.02 L146.77 159.93 L147.41 160.83 L148.05 161.71 L148.69 162.58 L149.33 163.44 L149.97 164.28 L150.61 165.11 L151.25 165.92 L151.89 166.72 L152.53 167.51 L153.18 168.29 L153.82 169.05 L154.46 169.80 L155.10 170.54 L155.74 171.27 L156.38 171.98 L157.02 172.69 L157.66 173.38 L158.30 174.06 L158.94 174.72 L159.58 175.38 L160.22 176.03 L160.86 176.66 L161.51 177.29 L162.15 177.90 L162.79 178.50 L163.43 179.09 L164.07 179.68 L164.71 180.25 L165.35 180.81 L165.99 181.36 L166.63 181.90 L167.27 182.44 L167.91 182.96 L168.55 183.47 L169.19 183.98 L169.84 184.48 L170.48 184.98 L171.12 185.47 L171.76 185.95 L172.40 186.42 L173.04 186.89 L173.68 187.35 L174.32 187.79 L174.96 188.23 L175.60 188.67 L176.24 189.09 L176.88 189.50 L177.52 189.91 L178.16 190.31 L178.81 190.71 L179.45 191.09 L180.09 191.47 L180.73 191.84 L181.37 192.21 L182.01 192.56 L182.65 192.92 L183.29 193.26 L183.93 193.60 L184.57 193.93 L185.21 194.26 L185.85 194.57 L186.49 194.89 L187.14 195.20 L187.78 195.50 L188.42 195.79 L189.06 196.08 L189.70 196.37 L190.34 196.65 L190.98 196.92 L191.62 197.19 L192.26 197.45 L192.90 197.71 L193.54 197.97 L194.18 198.21 L194.82 198.46 L195.47 198.70 L196.11 198.93 L196.75 199.16 L197.39 199.39 L198.03 199.61 L198.67 199.83 L199.31 200.04 L199.95 200.25 L200.59 200.46 L201.23 200.66 L201.87 200.86 L202.51 201.05 L203.15 201.24 L203.79 201.43 L204.44 201.61 L205.08 201.79 L205.72 201.96 L206.36 202.13 L207.00 202.30 L207.64 202.47 L208.28 202.63 L208.92 202.79 L209.56 202.95 L210.20 203.10 L210.84 203.25 L211.48 203.40 L212.12 203.54 L212.77 203.68 L213.41 203.82 L214.05 203.96 L214.69 204.09 L215.33 204.24 L215.97 204.38 L216.61 204.52 L217.25 204.65 L217.89 204.78 L218.53 204.91 L219.17 205.04 L219.81 205.16 L220.45 205.28 L221.10 205.40 L221.74 205.52 L222.38 205.63 L223.02 205.74 L223.66 205.85 L224.30 205.96 L224.94 206.06 L225.58 206.16 L226.22 206.26 L226.86 206.36 L227.50 206.45 L228.14 206.55 L228.78 206.64 L229.42 206.73 L230.07 206.82 L230.71 206.90 L231.35 206.99 L231.99 207.07 L232.63 207.15 L233.27 207.23 L233.91 207.30 L234.55 207.38 L235.19 207.45 L235.83 207.52 L236.47 207.59 L237.11 207.66 L237.75 207.73 L238.40 207.80 L239.04 207.86 L239.68 207.92 L240.32 207.99 L240.96 208.05 L241.60 208.11 L242.24 208.16 L242.88 208.22 L243.52 208.28 L244.16 208.33 L244.80 208.38 L245.44 208.44 L246.08 208.49 L246.73 208.54 L247.37 208.59 L248.01 208.64 L248.65 208.69 L249.29 208.74 L249.93 208.78 L250.57 208.83 L251.21 208.87 L251.85 208.92 L252.49 208.96 L253.13 209.00 L253.77 209.04 L254.41 209.08 L255.05 209.12 L255.70 209.16 L256.34 209.20 L256.98 209.24 L257.62 209.27 L258.26 209.31 L258.90 209.34 L259.54 209.37 L260.18 209.41 L260.82 209.44 L261.46 209.47 L262.10 209.50 L262.74 209.53 L263.38 209.56 L264.03 209.59 L264.67 209.61 L265.31 209.64 L265.95 209.67 L266.59 209.69 L267.23 209.72 L267.87 209.74 L268.51 209.77 L269.15 209.79 L269.79 209.81 L270.43 209.84 L271.07 209.86 L271.71 209.88 L272.36 209.90 L273.00 209.92 L273.64 209.94 L274.28 209.96 L274.92 209.98 L275.56 210.00 L276.20 210.02 L276.84 210.04 L277.48 210.05 L278.12 210.07 L278.76 210.09 L279.40 210.10 L280.04 210.12 L280.68 210.13 L281.33 210.15 L281.97 210.16 L282.61 210.18 L283.25 210.19 L283.89 210.20 L284.53 210.22 L285.17 210.23 L285.81 210.24 L286.45 210.25 L287.09 210.27 L287.73 210.28 L288.37 210.29 L289.01 210.30 L289.66 210.31 L290.30 210.32 L290.94 210.33 L291.58 210.34 L292.22 210.35 L292.86 210.36 L293.50 210.37 L294.14 210.38 L294.78 210.39 L295.42 210.40 L296.06 210.41 L296.70 210.42 L297.34 210.43 L297.99 210.43 L298.63 210.44 L299.27 210.45 L299.91 210.46 L300.55 210.46 L301.19 210.47 L301.83 210.48 L302.47 210.49 L303.11 210.49 L303.75 210.50 L304.39 210.51 L305.03 210.51 L305.67 210.52 L306.31 210.53 L306.96 210.53 L307.60 210.54 L308.24 210.54 L308.88 210.55 L309.52 210.55 L310.16 210.56 L310.80 210.56"/>
</g>
<g fill="none" stroke="#000" stroke-width="0.7">
<circle cx="54.50" cy="194.79" r="2.5"/><circle cx="67.31" cy="122.25" r="2.5"/><circle cx="80.13" cy="43.41" r="2.5"/><circle cx="92.95" cy="50.31" r="2.5"/><circle cx="105.76" cy="91.93" r="2.5"/><circle cx="118.58" cy="129.99" r="2.5"/><circle cx="131.39" cy="155.99" r="2.5"/><circle cx="144.21" cy="173.91" r="2.5"/><circle cx="157.02" cy="186.06" r="2.5"/><circle cx="169.84" cy="194.24" r="2.5"/><circle cx="182.65" cy="199.92" r="2.5"/><circle cx="195.47" cy="203.66" r="2.5"/><circle cx="208.28" cy="206.12" r="2.5"/><circle cx="221.10" cy="207.80" r="2.5"/><circle cx="233.91" cy="208.91" r="2.5"/><circle cx="246.73" cy="209.61" r="2.5"/><circle cx="259.54" cy="210.08" r="2.5"/><circle cx="272.36" cy="210.36" r="2.5"/><circle cx="285.17" cy="210.53" r="2.5"/><circle cx="297.99" cy="210.63" r="2.5"/><circle cx="310.80" cy="210.69" r="2.5"/><circle cx="67.31" cy="133.40" r="2.5"/><circle cx="80.13" cy="57.88" r="2.5"/><circle cx="92.95" cy="50.98" r="2.5"/><circle cx="105.76" cy="86.86" r="2.5"/><circle cx="118.58" cy="124.76" r="2.5"/><circle cx="131.39" cy="151.83" r="2.5"/><circle cx="144.21" cy="170.83" r="2.5"/><circle cx="157.02" cy="183.86" r="2.5"/><circle cx="169.84" cy="192.69" r="2.5"/><circle cx="182.65" cy="198.86" r="2.5"/><circle cx="195.47" cy="202.94" r="2.5"/><circle cx="208.28" cy="205.62" r="2.5"/><circle cx="221.10" cy="207.47" r="2.5"/><circle cx="233.91" cy="208.70" r="2.5"/><circle cx="246.73" cy="209.47" r="2.5"/><circle cx="259.54" cy="209.99" r="2.5"/><circle cx="272.36" cy="210.30" r="2.5"/><circle cx="54.50" cy="194.73" r="2.5"/><circle cx="67.31" cy="143.13" r="2.5"/><circle cx="80.13" cy="74.48" r="2.5"/><circle cx="92.95" cy="55.29" r="2.5"/><circle cx="105.76" cy="82.38" r="2.5"/><circle cx="118.58" cy="118.89" r="2.5"/><circle cx="131.39" cy="146.81" r="2.5"/><circle cx="144.21" cy="167.01" r="2.5"/><circle cx="157.02" cy="181.08" r="2.5"/><circle cx="169.84" cy="190.71" r="2.5"/><circle cx="182.65" cy="197.47" r="2.5"/><circle cx="195.47" cy="201.97" r="2.5"/><circle cx="208.28" cy="204.96" r="2.5"/><circle cx="221.10" cy="207.02" r="2.5"/><circle cx="233.91" cy="208.40" r="2.5"/><circle cx="246.73" cy="209.28" r="2.5"/><circle cx="259.54" cy="209.86" r="2.5"/><circle cx="272.36" cy="210.22" r="2.5"/><circle cx="285.17" cy="210.44" r="2.5"/><circle cx="297.99" cy="210.57" r="2.5"/><circle cx="67.31" cy="151.73" r="2.5"/><circle cx="80.13" cy="92.39" r="2.5"/><circle cx="92.95" cy="64.29" r="2.5"/><circle cx="105.76" cy="79.89" r="2.5"/><circle cx="118.58" cy="112.72" r="2.5"/><circle cx="131.39" cy="140.86" r="2.5"/><circle cx="144.21" cy="162.20" r="2.5"/><circle cx="157.02" cy="177.46" r="2.5"/><circle cx="169.84" cy="188.08" r="2.5"/><circle cx="182.65" cy="195.59" r="2.5"/><circle cx="195.47" cy="200.64" r="2.5"/><circle cx="208.28" cy="204.02" r="2.5"/><circle cx="221.10" cy="206.38" r="2.5"/><circle cx="233.91" cy="207.97" r="2.5"/><circle cx="246.73" cy="208.99" r="2.5"/><circle cx="259.54" cy="209.67" r="2.5"/><circle cx="272.36" cy="210.10" r="2.5"/><circle cx="285.17" cy="210.36" r="2.5"/><circle cx="297.99" cy="210.52" r="2.5"/><circle cx="310.80" cy="210.62" r="2.5"/><circle cx="54.50" cy="194.66" r="2.5"/><circle cx="67.31" cy="159.48" r="2.5"/><circle cx="80.13" cy="110.83" r="2.5"/><circle cx="92.95" cy="78.73" r="2.5"/><circle cx="105.76" cy="81.73" r="2.5"/><circle cx="118.58" cy="107.35" r="2.5"/><circle cx="131.39" cy="134.15" r="2.5"/><circle cx="144.21" cy="156.21" r="2.5"/><circle cx="157.02" cy="172.69" r="2.5"/><circle cx="169.84" cy="184.48" r="2.5"/><circle cx="182.65" cy="192.92" r="2.5"/><circle cx="195.47" cy="198.70" r="2.5"/><circle cx="208.28" cy="202.63" r="2.5"/><circle cx="221.10" cy="205.40" r="2.5"/><circle cx="233.91" cy="207.30" r="2.5"/><circle cx="246.73" cy="208.54" r="2.5"/><circle cx="259.54" cy="209.37" r="2.5"/><circle cx="272.36" cy="209.90" r="2.5"/><circle cx="285.17" cy="210.23" r="2.5"/><circle cx="297.99" cy="210.43" r="2.5"/><circle cx="310.80" cy="210.56" r="2.5"/>
</g>
<text x="54.5" y="231.5" text-anchor="middle">0</text><text x="118.575" y="231.5" text-anchor="middle">2</text><text x="182.65" y="231.5" text-anchor="middle">4</text><text x="246.72500000000002" y="231.5" text-anchor="middle">6</text><text x="310.8" y="231.5" text-anchor="middle">8</text><text x="52.3" y="218.40" text-anchor="end">0</text><text x="52.3" y="154.37" text-anchor="end">0.2</text><text x="52.3" y="90.33" text-anchor="end">0.4</text><text x="52.3" y="26.30" text-anchor="end">0.6</text>
<text x="182.5" y="249" text-anchor="middle">Iteration time</text>
<text transform="translate(18.5,112.75) rotate(-90)" text-anchor="middle">I/N</text>
</svg>
</body></html>
